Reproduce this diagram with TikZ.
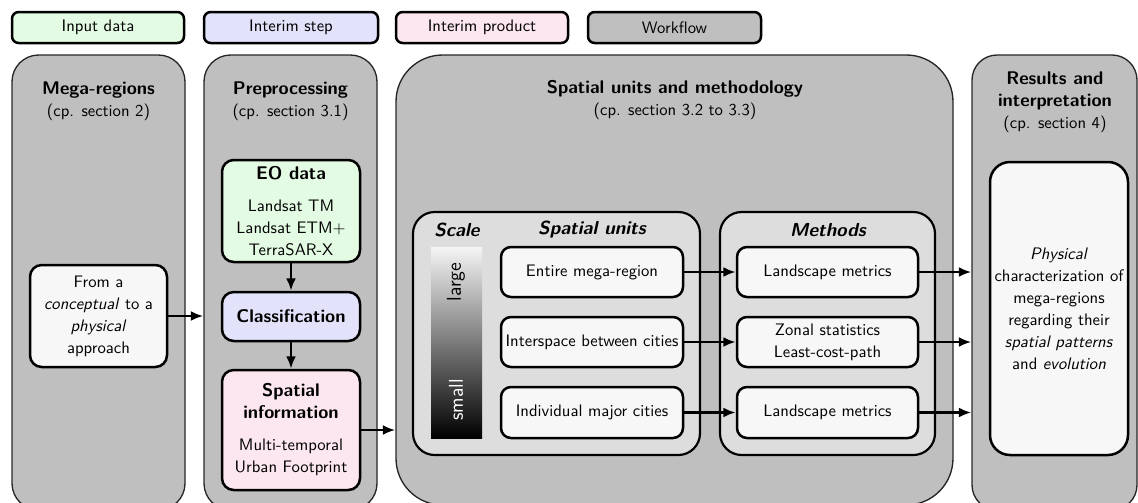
\documentclass[tikz,border=0pt]{standalone}
\usepackage{fontspec}
\usetikzlibrary{arrows.meta,fit}
\definecolor{ingreen}{HTML}{E3FAE3}
\definecolor{stepblue}{HTML}{E2E2FA}
\definecolor{prodpink}{HTML}{FCE6EF}
\definecolor{panelgray}{HTML}{BFBFBF}
\definecolor{innergray}{HTML}{DDDDDD}
\definecolor{boxwhite}{HTML}{F7F7F7}
\newcommand{\boldttl}{\fontsize{11}{13.2}\selectfont\bfseries}
\begin{document}
\begin{tikzpicture}[x=0.6pt,y=-0.6pt,
  font=\sffamily\fontsize{10}{13.2}\selectfont,
  legend/.style={draw=black, line width=1.5pt, rounded corners=4pt, inner sep=0pt},
  panel/.style={draw=black!85, line width=0.8pt, fill=panelgray, inner sep=0pt},
  inner/.style={draw=black, line width=1.3pt, fill=innergray, rounded corners=13pt, inner sep=0pt},
  box/.style={draw=black, line width=1.5pt, rounded corners=6pt, inner sep=0pt},
  txt/.style={align=center, inner sep=0pt},
  hdr/.style={inner sep=0pt, font=\sffamily\fontsize{11.3}{13.2}\selectfont\bfseries\itshape},
  barlbl/.style={rotate=90, inner sep=0pt, font=\sffamily\fontsize{12}{14}\selectfont},
  arr/.style={line width=1.6pt, -{Latex[length=7.5pt,width=6pt]}},
]
\useasboundingbox (0,0) rectangle (1138,502);
% legend
\node[legend, fill=ingreen, fit={(12,12)(184,43)}] (lin) {};
\node[txt] (lin-t) at (lin.center) {Input data};
\node[legend, fill=stepblue, fit={(204,12)(378,43)}] (lstep) {};
\node[txt] (lstep-t) at (lstep.center) {Interim step};
\node[legend, fill=prodpink, fit={(396,12)(568,43)}] (lprod) {};
\node[txt] (lprod-t) at (lprod.center) {Interim product};
\node[legend, fill=panelgray, fit={(588,12)(761,43)}] (lwork) {};
\node[txt] (lwork-t) at (lwork.center) {Workflow};
% panels
\node[panel, rounded corners=16pt, fit={(12,55)(185,510)}] (mega) {};
\node[panel, rounded corners=16pt, fit={(204,55)(377,510)}] (pre) {};
\node[panel, rounded corners=28pt, fit={(396,55)(953,505)}] (spat) {};
\node[panel, rounded corners=15pt, fit={(972,55)(1137,510)}] (res) {};
% titles
\node[txt] (tmega) at (98.5,101) {{\boldttl Mega-regions}\\(cp. section 2)};
\node[txt] (tpre) at (290.5,101) {{\boldttl Preprocessing}\\(cp. section 3.1)};
\node[txt] (tspat) at (675,100) {{\boldttl Spatial units and methodology}\\(cp. section 3.2 to 3.3)};
\node[txt] (tres) at (1055,102) {{\boldttl Results and}\\{\boldttl interpretation}\\(cp. section 4)};
% mega-regions
\node[box, fill=boxwhite, rounded corners=7pt, fit={(30,265)(167,367)}] (concept) {};
\node[txt] (concept-t) at (concept.center) {From a\\\emph{conceptual} to a\\\emph{physical}\\approach};
% preprocessing
\node[box, fill=ingreen, rounded corners=7pt, fit={(222,160)(360,262)}] (eo) {};
\node[txt] (eo-t) at (eo.center) {{\boldttl EO data}\\[6pt]Landsat TM\\Landsat ETM+\\TerraSAR-X};
\node[box, fill=stepblue, rounded corners=7pt, fit={(222,292)(360,341)}] (class) {};
\node[txt] (class-t) at (class.center) {\boldttl Classification};
\node[box, fill=prodpink, rounded corners=7pt, fit={(222,370)(360,490)}] (sinfo) {};
\node[txt] (sinfo-t) at (sinfo.center) {{\boldttl Spatial}\\{\boldttl information}\\[6pt]Multi-temporal\\Urban Footprint};
% spatial units and methodology
\node[inner, fit={(413,212)(700,455)}] (units) {};
\node[inner, fit={(720,212)(935,455)}] (meth) {};
\node[hdr] (tscale) at (457,230) {Scale};
\node[hdr] (tunits) at (592,230) {Spatial units};
\node[hdr] (tmeth) at (828,230) {Methods};
\node[inner sep=0pt, top color=white!96!black, bottom color=black, fit={(431,247)(482,438)}] (bar) {};
\node[barlbl] (lg) at (456,282) {large};
\node[barlbl, text=white] (sm) at (456,400) {small};
\node[box, fill=boxwhite, fit={(501,247)(683,297)}] (u1) {};
\node[txt] (u1-t) at (u1.center) {Entire mega-region};
\node[box, fill=boxwhite, fit={(501,317)(683,367)}] (u2) {};
\node[txt] (u2-t) at (u2.center) {Interspace between cities};
\node[box, fill=boxwhite, fit={(501,387)(683,438)}] (u3) {};
\node[txt] (u3-t) at (u3.center) {Individual major cities};
\node[box, fill=boxwhite, fit={(737,247)(918,297)}] (m1) {};
\node[txt] (m1-t) at (m1.center) {Landscape metrics};
\node[box, fill=boxwhite, fit={(737,317)(918,367)}] (m2) {};
\node[txt] (m2-t) at (m2.center) {Zonal statistics\\Least-cost-path};
\node[box, fill=boxwhite, fit={(737,387)(918,438)}] (m3) {};
\node[txt] (m3-t) at (m3.center) {Landscape metrics};
% results
\node[box, fill=boxwhite, rounded corners=12pt, fit={(990,162)(1128,455)}] (phys) {};
\node[txt] (phys-t) at (phys.center) {\emph{Physical}\\characterization of\\mega-regions\\regarding their\\\emph{spatial patterns}\\and \emph{evolution}};
% arrows
\draw[arr] (concept.east) -- (concept.east -| pre.west);
\draw[arr] (eo.south) -- (class.north);
\draw[arr] (class.south) -- (sinfo.north);
\draw[arr] (sinfo.east) -- (sinfo.east -| spat.west);
\draw[arr] (u1.east) -- (m1.west);
\draw[arr] (u2.east) -- (m2.west);
\draw[arr] (u3.east) -- (m3.west);
\draw[arr] (m1.east) -- (m1.east -| res.west);
\draw[arr] (m2.east) -- (m2.east -| res.west);
\draw[arr] (m3.east) -- (m3.east -| res.west);
\end{tikzpicture}
\end{document}
